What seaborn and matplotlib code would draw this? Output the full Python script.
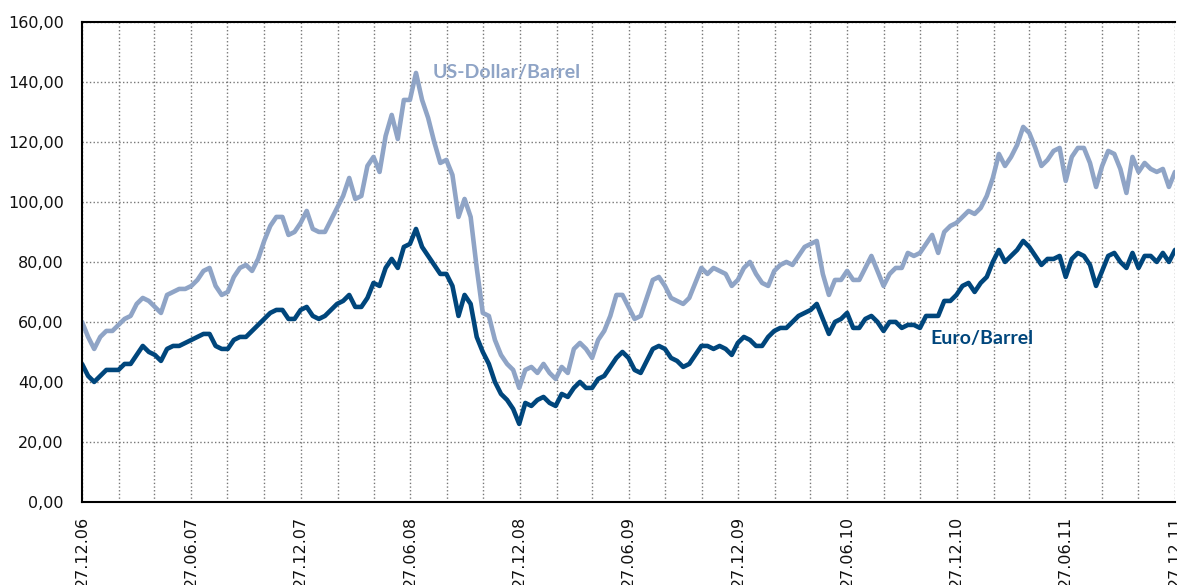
import pandas as pd
import matplotlib
matplotlib.use("Agg")
import matplotlib.pyplot as plt
import matplotlib.dates as mdates
from matplotlib.ticker import FuncFormatter, MultipleLocator
import seaborn as sns

start, end = "2006-12-27", "2011-12-27"

usd_barrel = [
    60, 55, 51, 55, 57, 57, 59, 61, 62, 66, 68, 67, 65, 63, 69, 70, 71, 71, 72,
    74, 77, 78, 72, 69, 70, 75, 78, 79, 77, 81, 87, 92, 95, 95, 89, 90, 93,
    97, 91, 90, 90, 94, 98, 102, 108, 101, 102, 112, 115, 110, 122, 129, 121, 134, 134,
    143, 134, 128, 120, 113, 114, 109, 95, 101, 95, 78, 63, 62, 54, 49, 46, 44, 38,
    44, 45, 43, 46, 43, 41, 45, 43, 51, 53, 51, 48, 54, 57, 62, 69, 69, 65,
    61, 62, 68, 74, 75, 72, 68, 67, 66, 68, 73, 78, 76, 78, 77, 76, 72, 74,
    78, 80, 76, 73, 72, 77, 79, 80, 79, 82, 85, 86, 87, 76, 69, 74, 74, 77,
    74, 74, 78, 82, 77, 72, 76, 78, 78, 83, 82, 83, 86, 89, 83, 90, 92, 93,
    95, 97, 96, 98, 102, 108, 116, 112, 115, 119, 125, 123, 118, 112, 114, 117, 118, 107,
    115, 118, 118, 113, 105, 112, 117, 116, 111, 103, 115, 110, 113, 111, 110, 111, 105, 110,
]

eur_barrel = [
    46, 42, 40, 42, 44, 44, 44, 46, 46, 49, 52, 50, 49, 47, 51, 52, 52, 53, 54,
    55, 56, 56, 52, 51, 51, 54, 55, 55, 57, 59, 61, 63, 64, 64, 61, 61, 64,
    65, 62, 61, 62, 64, 66, 67, 69, 65, 65, 68, 73, 72, 78, 81, 78, 85, 86,
    91, 85, 82, 79, 76, 76, 72, 62, 69, 66, 55, 50, 46, 40, 36, 34, 31, 26,
    33, 32, 34, 35, 33, 32, 36, 35, 38, 40, 38, 38, 41, 42, 45, 48, 50, 48,
    44, 43, 47, 51, 52, 51, 48, 47, 45, 46, 49, 52, 52, 51, 52, 51, 49, 53,
    55, 54, 52, 52, 55, 57, 58, 58, 60, 62, 63, 64, 66, 61, 56, 60, 61, 63,
    58, 58, 61, 62, 60, 57, 60, 60, 58, 59, 59, 58, 62, 62, 62, 67, 67, 69,
    72, 73, 70, 73, 75, 80, 84, 80, 82, 84, 87, 85, 82, 79, 81, 81, 82, 75,
    81, 83, 82, 79, 72, 77, 82, 83, 80, 78, 83, 78, 82, 82, 80, 83, 80, 84,
]

dates = pd.date_range(start, end, periods=len(usd_barrel))
df = pd.DataFrame({"Datum": dates, "US-Dollar/Barrel": usd_barrel, "Euro/Barrel": eur_barrel})
long_df = df.melt(id_vars="Datum", var_name="Serie", value_name="Preis")

col_usd = "#8fa4c6"
col_eur = "#00467c"

sns.set_style("white")
plt.rcParams["font.family"] = ["DejaVu Sans"]

fig = plt.figure(figsize=(11.77, 5.85), dpi=100)
ax = fig.add_axes([0.0697, 0.142, 0.9286, 0.8205])

sns.lineplot(data=long_df, x="Datum", y="Preis", hue="Serie",
             palette={"US-Dollar/Barrel": col_usd, "Euro/Barrel": col_eur},
             linewidth=3.3, legend=False, ax=ax)

ax.set_xlim(pd.Timestamp(start), pd.Timestamp(end))
ax.set_ylim(0, 160)
ax.set_xlabel("")
ax.set_ylabel("")

# Ticks und Raster
ax.yaxis.set_major_locator(MultipleLocator(20))
ax.yaxis.set_major_formatter(FuncFormatter(lambda v, p: f"{v:.2f}".replace(".", ",")))
ax.xaxis.set_major_locator(mdates.MonthLocator(bymonth=[6, 12], bymonthday=27))
ax.xaxis.set_minor_locator(mdates.MonthLocator(bymonth=[2, 4, 8, 10], bymonthday=27))
ax.xaxis.set_major_formatter(mdates.DateFormatter("%d.%m.%y"))
ax.tick_params(axis="both", which="both", length=0, labelsize=11.5, colors="#111111")
ax.tick_params(axis="y", pad=13)
ax.tick_params(axis="x", pad=10)
plt.setp(ax.get_xticklabels(), rotation=90, va="top", ha="center")

ax.grid(True, which="both", axis="x", linestyle=":", color="#777777", linewidth=1)
ax.grid(True, which="major", axis="y", linestyle=":", color="#777777", linewidth=1)
ax.set_axisbelow(True)

for s in ["left", "bottom", "top"]:
    ax.spines[s].set_color("black")
    ax.spines[s].set_linewidth(1.5)
ax.spines["right"].set_visible(False)

# Beschriftungen der Linien
ax.text(pd.Timestamp("2008-08-03"), 143, "US-Dollar/Barrel", color=col_usd,
        fontsize=14, fontweight="bold", family=["Lato", "DejaVu Sans"], va="center")
ax.text(pd.Timestamp("2010-11-13"), 54.5, "Euro/Barrel", color=col_eur,
        fontsize=14, fontweight="bold", family=["Lato", "DejaVu Sans"], va="center")

fig.savefig("out.png", dpi=100)
